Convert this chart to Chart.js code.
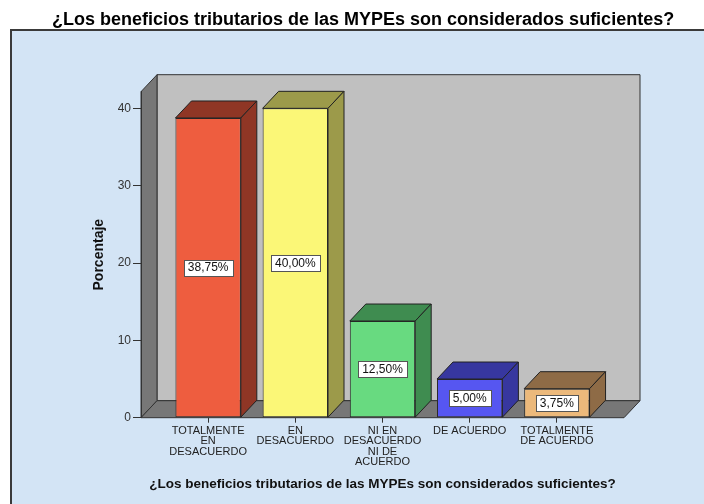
<!DOCTYPE html>
<html>
<head>
<meta charset="utf-8">
<script src="https://cdn.jsdelivr.net/npm/chart.js@4.4.1/dist/chart.umd.min.js"></script>
<style>
  html, body { margin: 0; padding: 0; background: #fff; }
</style>
</head>
<body>
<canvas id="grafico" width="704" height="504"></canvas>
<script>
// ── datos ─────────────────────────────────────────────
var titulo      = '¿Los beneficios tributarios de las MYPEs son considerados suficientes?';
var categorias  = [
    ['TOTALMENTE', 'EN', 'DESACUERDO'],
    ['EN', 'DESACUERDO'],
    ['NI EN', 'DESACUERDO', 'NI DE', 'ACUERDO'],
    ['DE ACUERDO'],
    ['TOTALMENTE', 'DE ACUERDO']
];
var porcentajes = [38.75, 40.00, 12.50, 5.00, 3.75];
var etiquetas   = ['38,75%', '40,00%', '12,50%', '5,00%', '3,75%'];
var yTicks      = [0, 10, 20, 30, 40];
var yMax        = 42.15;

// ── estilo ────────────────────────────────────────────
var colFrente = ['#ee5d3f', '#fbf777', '#68da80', '#5656f1', '#ecb97b'];
var colLado   = ['#8f3625', '#9c9a4a', '#3f8c50', '#37379f', '#8e6b46'];
var FUENTE    = "'Liberation Sans', Arial, sans-serif";
var DX = 16, DY = 17;   // profundidad 3D

Chart.defaults.font.family = FUENTE;

function poly(ctx, pts, fill, stroke) {
    ctx.beginPath();
    ctx.moveTo(pts[0][0], pts[0][1]);
    for (var i = 1; i < pts.length; i++) ctx.lineTo(pts[i][0], pts[i][1]);
    ctx.closePath();
    ctx.fillStyle = fill;
    ctx.fill();
    ctx.strokeStyle = stroke;
    ctx.lineWidth = 1;
    ctx.stroke();
}

// fondo, marco, titulo y caja 3D
var caja3d = {
    id: 'caja3d',
    beforeDraw: function (chart) {
        var ctx = chart.ctx, a = chart.chartArea;
        ctx.save();
        ctx.fillStyle = '#fff';
        ctx.fillRect(0, 0, chart.width, chart.height);

        ctx.fillStyle = '#d3e4f5';
        ctx.fillRect(11, 30, chart.width, chart.height);
        ctx.strokeStyle = '#3a3a3a';
        ctx.lineWidth = 2;
        ctx.strokeRect(11, 30, chart.width + 20, chart.height + 20);

        ctx.fillStyle = '#000';
        ctx.font = 'bold 18px ' + FUENTE;
        ctx.textAlign = 'left';
        ctx.textBaseline = 'alphabetic';
        ctx.fillText(titulo, 52, 25);

        // pared trasera
        poly(ctx, [[a.left + DX, a.top - DY], [a.right + DX, a.top - DY],
                   [a.right + DX, a.bottom - DY], [a.left + DX, a.bottom - DY]], '#c0c0c0', '#333');
        // pared izquierda
        poly(ctx, [[a.left, a.top], [a.left + DX, a.top - DY],
                   [a.left + DX, a.bottom - DY], [a.left, a.bottom]], '#777777', '#333');
        // piso
        poly(ctx, [[a.left, a.bottom], [a.left + DX, a.bottom - DY],
                   [a.right + DX, a.bottom - DY], [a.right, a.bottom]], '#777777', '#333');
        ctx.restore();
    },
    afterDatasetsDraw: function (chart) {
        var ctx = chart.ctx;
        var meta = chart.getDatasetMeta(0);
        ctx.save();
        meta.data.forEach(function (bar, i) {
            var p = bar.getProps(['x', 'y', 'base', 'width'], true);
            var l = p.x - p.width / 2, r = p.x + p.width / 2;
            // cara superior
            poly(ctx, [[l, p.y], [l + DX, p.y - DY], [r + DX, p.y - DY], [r, p.y]], colLado[i], '#222');
            // cara lateral
            poly(ctx, [[r, p.y], [r + DX, p.y - DY], [r + DX, p.base - DY], [r, p.base]], colLado[i], '#222');
        });
        // etiquetas de valor
        ctx.font = '12px ' + FUENTE;
        ctx.textAlign = 'center';
        ctx.textBaseline = 'middle';
        meta.data.forEach(function (bar, i) {
            var p = bar.getProps(['x', 'y', 'base'], true);
            var cy = (p.y + p.base) / 2;
            var bw = Math.round(ctx.measureText(etiquetas[i]).width + 8);
            var bh = 16;
            var bx = Math.round(p.x - bw / 2) + 0.5, by = Math.round(cy - bh / 2) + 0.5;
            ctx.fillStyle = '#fff';
            ctx.fillRect(bx, by, bw, bh);
            ctx.strokeStyle = '#555';
            ctx.lineWidth = 1;
            ctx.strokeRect(bx, by, bw, bh);
            ctx.fillStyle = '#111';
            ctx.fillText(etiquetas[i], p.x, cy + 0.5);
        });
        ctx.restore();
    }
};

new Chart(document.getElementById('grafico'), {
    type: 'bar',
    data: {
        datasets: [{
            data: porcentajes.map(function (v, i) { return { x: i, y: v }; }),
            backgroundColor: colFrente,
            borderColor: '#2b2b2b',
            borderWidth: 1,
            borderSkipped: false,
            categoryPercentage: 1,
            barPercentage: 0.75
        }]
    },
    options: {
        responsive: false,
        animation: false,
        layout: { padding: { top: 91.7, left: 0, right: 80, bottom: 0 } },
        plugins: {
            legend: { display: false },
            tooltip: { enabled: false }
        },
        scales: {
            x: {
                type: 'linear',
                min: -0.77,
                max: 4.77,
                offset: false,
                afterBuildTicks: function (s) {
                    s.ticks = categorias.map(function (c, i) { return { value: i }; });
                },
                afterFit: function (s) { s.height = 86.3; },
                grid: { drawOnChartArea: false, drawTicks: true, tickLength: 5, color: '#333', offset: false },
                border: { display: false },
                ticks: {
                    autoSkip: false, maxRotation: 0, padding: 3, color: '#222',
                    font: { size: 11, lineHeight: 0.94 },
                    callback: function (v) { return categorias[v]; }
                },
                title: {
                    display: true, text: titulo, color: '#111',
                    font: { size: 13.5, weight: 'bold' },
                    padding: { top: 0, bottom: 11.4 }
                }
            },
            y: {
                min: 0,
                max: yMax,
                afterBuildTicks: function (s) {
                    s.ticks = yTicks.map(function (v) { return { value: v }; });
                },
                afterFit: function (s) { s.width = 141; },
                grid: { drawOnChartArea: false, tickLength: 8, color: '#333' },
                border: { display: true, color: '#333' },
                ticks: { padding: 2, color: '#333', font: { size: 12 } },
                title: {
                    display: true, text: 'Porcentaje', color: '#111',
                    font: { size: 14, weight: 'bold' },
                    padding: { top: 91.1, bottom: 0 }
                }
            }
        }
    },
    plugins: [caja3d]
});
</script>
</body>
</html>
